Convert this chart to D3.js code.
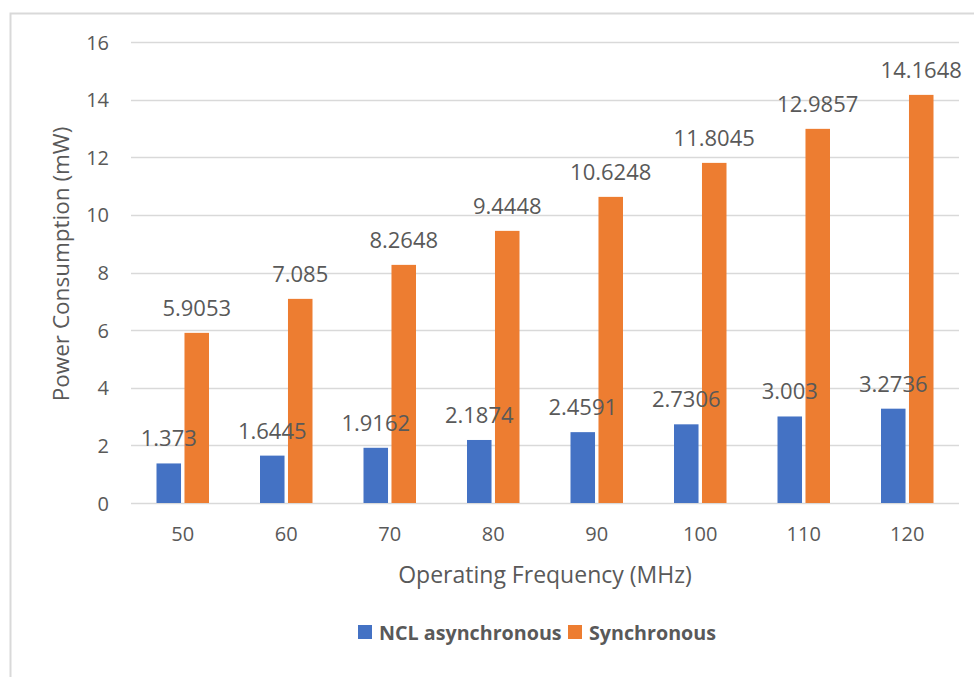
<!DOCTYPE html>
<html>
<head>
<meta charset="utf-8">
<script src="https://cdn.jsdelivr.net/npm/d3@7"></script>
<style>
  html, body { margin: 0; padding: 0; background: #fff; }
  svg text { font-family: "Open Sans", sans-serif; fill: #595959; }
</style>
</head>
<body>
<svg id="chart" width="974" height="677"></svg>
<script>
const categories = ["50", "60", "70", "80", "90", "100", "110", "120"];
const ncl = [1.373, 1.6445, 1.9162, 2.1874, 2.4591, 2.7306, 3.003, 3.2736];
const sync = [5.9053, 7.085, 8.2648, 9.4448, 10.6248, 11.8045, 12.9857, 14.1648];
const seriesNames = ["NCL asynchronous", "Synchronous"];
const seriesColors = ["#4472C4", "#ED7D31"];
const yTicks = [0, 2, 4, 6, 8, 10, 12, 14, 16];

const svg = d3.select("#chart");
const W = 974, H = 677;
svg.append("rect").attr("x", 0).attr("y", 0).attr("width", W).attr("height", H).attr("fill", "#fff");
// chart area border (extends beyond right/bottom edge)
svg.append("rect").attr("x", 10.5).attr("y", 13.5).attr("width", 1000).attr("height", 700)
  .attr("fill", "none").attr("stroke", "#d9d9d9").attr("stroke-width", 2);

const plot = { left: 131, right: 959, top: 42, bottom: 503 };

const x0 = d3.scaleBand().domain(categories).range([plot.left, plot.right]).paddingInner(0).paddingOuter(0);
const barW = 23, gap = 6.5;
const x1 = d3.scaleBand().domain(seriesNames)
  .range([0, 2 * barW + gap]).paddingInner(gap / (2 * barW + gap));
const y = d3.scaleLinear().domain([0, 16]).range([plot.bottom, plot.top]);

// gridlines
svg.append("g").selectAll("line").data(yTicks).join("line")
  .attr("x1", plot.left).attr("x2", plot.right)
  .attr("y1", d => Math.round(y(d)) + 0.5).attr("y2", d => Math.round(y(d)) + 0.5)
  .attr("stroke", "#d9d9d9").attr("stroke-width", 1.5);

// y axis tick labels
const yAxis = d3.axisLeft(y).tickValues(yTicks).tickSize(0).tickPadding(0);
const gy = svg.append("g").attr("transform", `translate(${plot.left - 22},0)`).call(yAxis);
gy.select(".domain").remove();
gy.selectAll("text").style("font-size", "20px").attr("fill", "#595959").attr("dy", "0.35em");

// x axis tick labels
const xAxis = d3.axisBottom(x0).tickSize(0).tickPadding(0);
const gx = svg.append("g").attr("transform", `translate(0,${plot.bottom + 24})`).call(xAxis);
gx.select(".domain").remove();
gx.selectAll("text").style("font-size", "20px").attr("fill", "#595959").attr("dy", "0.71em");

const groupOffset = (x0.bandwidth() - (2 * barW + gap)) / 2;
const seriesData = [ncl, sync];
const xPos = (si, i) => x0(categories[i]) + groupOffset + x1(seriesNames[si]);

// bars first
seriesData.forEach((vals, si) => {
  svg.append("g").selectAll("rect").data(vals).join("rect")
    .attr("x", (d, i) => xPos(si, i))
    .attr("width", x1.bandwidth())
    .attr("y", d => y(d))
    .attr("height", d => y(0) - y(d))
    .attr("fill", seriesColors[si]);
});
// labels on top
seriesData.forEach((vals, si) => {
  svg.append("g").selectAll("text").data(vals).join("text")
    .attr("x", (d, i) => xPos(si, i) + x1.bandwidth() / 2)
    .attr("y", d => y(d) - 17)
    .attr("text-anchor", "middle")
    .style("font-size", "22px")
    .text(d => String(d));
});

// axis titles
svg.append("text")
  .attr("transform", `translate(69,264) rotate(-90)`)
  .attr("text-anchor", "middle")
  .style("font-size", "22.5px")
  .text("Power Consumption (mW)");
svg.append("text")
  .attr("x", 545).attr("y", 583)
  .attr("text-anchor", "middle")
  .style("font-size", "23px")
  .text("Operating Frequency (MHz)");

// legend
const legend = [
  { name: seriesNames[0], color: seriesColors[0], x: 358 },
  { name: seriesNames[1], color: seriesColors[1], x: 568 }
];
const lg = svg.append("g");
legend.forEach(l => {
  lg.append("rect").attr("x", l.x).attr("y", 625).attr("width", 14).attr("height", 14).attr("fill", l.color);
  lg.append("text").attr("x", l.x + 21).attr("y", 640)
    .style("font-size", "19.7px").style("font-weight", "bold")
    .text(l.name);
});
</script>
</body>
</html>
